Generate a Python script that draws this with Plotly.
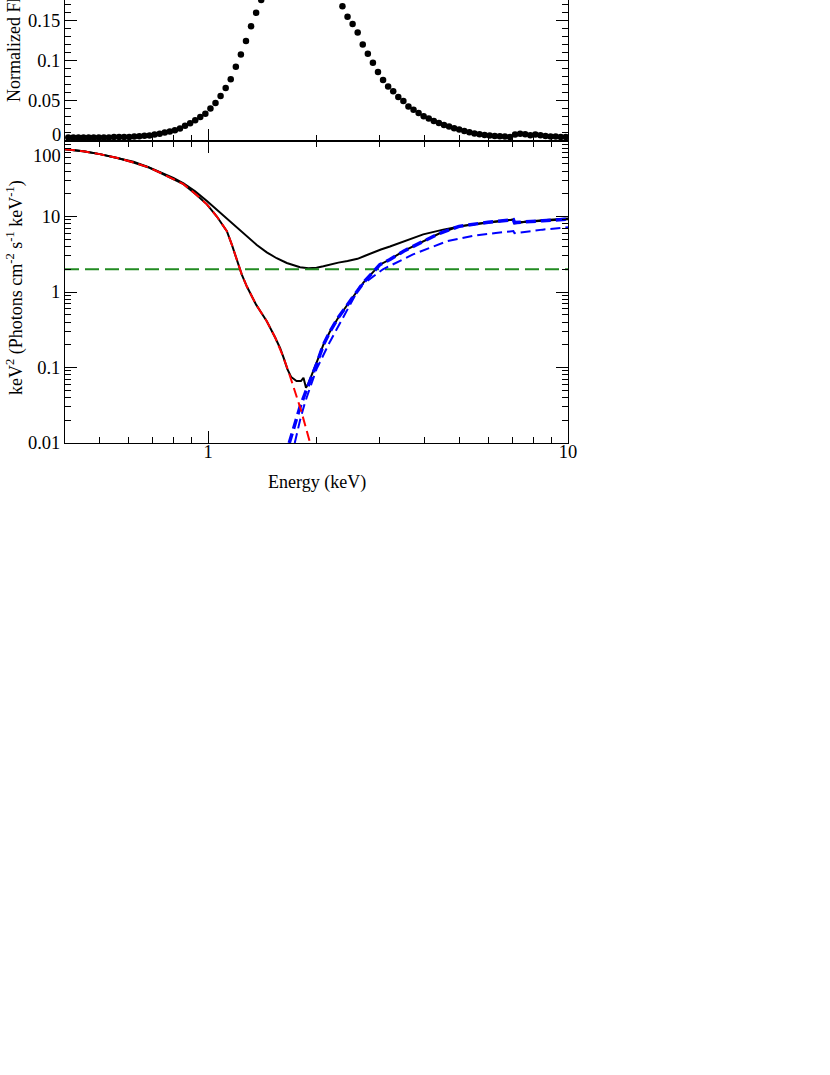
import plotly.graph_objects as go
import numpy as np

# ---------------- data ----------------
# top panel: normalized flux points
flux_energy = [0.4085, 0.4220, 0.4359, 0.4503, 0.4652, 0.4805, 0.4964, 0.5128, 0.5297, 0.5472,
               0.5653, 0.5840, 0.6032, 0.6232, 0.6437, 0.6650, 0.6870, 0.7096, 0.7331, 0.7573,
               0.7823, 0.8081, 0.8348, 0.8624, 0.8909, 0.9203, 0.9507, 0.9821, 1.0145, 1.0480,
               1.0826, 1.1184, 1.1553, 1.1935, 1.2329, 1.2736, 1.3157, 1.3591, 1.4040, 1.4504,
               1.4983, 1.5478, 1.5989, 1.6517, 1.7062, 1.7626, 1.8208, 1.8809, 1.9430, 2.0072,
               2.0735, 2.1419, 2.2127, 2.2857, 2.3612, 2.4392, 2.5197, 2.6029, 2.6889, 2.7777,
               2.8694, 2.9642, 3.0621, 3.1632, 3.2676, 3.3755, 3.4870, 3.6021, 3.7211, 3.8440,
               3.9709, 4.1020, 4.2375, 4.3774, 4.5220, 4.6713, 4.8256, 4.9849, 5.1495, 5.3196,
               5.4952, 5.6767, 5.8641, 6.0578, 6.2578, 6.4644, 6.6779, 6.8984, 7.1262, 7.3615,
               7.6046, 7.8557, 8.1151, 8.3831, 8.6599, 8.9458, 9.2412, 9.5464, 9.8616]
flux_value = [0.0045, 0.0045, 0.0045, 0.0045, 0.0045, 0.0045, 0.0045, 0.0045, 0.0045, 0.005,
              0.005, 0.005, 0.005, 0.0055, 0.006, 0.0065, 0.007, 0.008, 0.0092, 0.0105,
              0.012, 0.0135, 0.0155, 0.019, 0.022, 0.026, 0.030, 0.034, 0.0405, 0.0475,
              0.056, 0.066, 0.077, 0.0925, 0.108, 0.1246, 0.143, 0.160, 0.176, 0.195,
              0.215, 0.235, 0.255, 0.27, 0.282, 0.29, 0.292, 0.288, 0.278, 0.262,
              0.242, 0.22, 0.2, 0.182, 0.168, 0.155, 0.146, 0.1355, 0.1205, 0.109,
              0.0975, 0.086, 0.076, 0.068, 0.062, 0.055, 0.05, 0.043, 0.039, 0.035,
              0.031, 0.028, 0.025, 0.0225, 0.020, 0.018, 0.016, 0.0142, 0.0125, 0.011,
              0.0095, 0.0085, 0.0075, 0.007, 0.0063, 0.0059, 0.0055, 0.005, 0.008, 0.0092,
              0.0084, 0.0071, 0.008, 0.0071, 0.0063, 0.0055, 0.0055, 0.005, 0.005]

# bottom panel: model curves (keV^2 Photons cm^-2 s^-1 keV^-1)
total_energy = [0.4, 0.45, 0.5, 0.56, 0.62, 0.68, 0.736, 0.8, 0.854, 0.92, 0.992, 1.057,
                1.127, 1.2, 1.281, 1.365, 1.455, 1.55, 1.654, 1.73, 1.8, 1.9, 2.0, 2.09,
                2.18, 2.3, 2.44, 2.47, 2.5, 2.6, 2.73, 2.87, 3.02, 3.2, 3.5, 3.96, 4.5, 5.0,
                5.5, 6.2, 7.05, 7.1, 7.6, 8.5, 10.0]
total_value = [78, 73, 67, 59.5, 53, 45.5, 39, 32.5, 27.5, 21.5, 16.0, 12.3,
               9.3, 7.1, 5.5, 4.2, 3.35, 2.8, 2.42, 2.24, 2.13, 2.07, 2.1, 2.19,
               2.31, 2.45, 2.58, 2.62, 2.6, 2.75, 3.02, 3.33, 3.65, 4.0, 4.7, 5.8, 6.7, 7.4,
               7.9, 8.5, 9.1, 8.1, 8.5, 8.95, 9.4]

sum_energy = [0.4, 0.45, 0.5, 0.56, 0.62, 0.68, 0.736, 0.8, 0.854, 0.92, 0.992, 1.057,
              1.127, 1.164, 1.201, 1.24, 1.281, 1.32, 1.359, 1.405, 1.455, 1.535, 1.585,
              1.62, 1.66, 1.7, 1.76, 1.81, 1.84, 1.87, 1.9, 2.0, 2.09, 2.18, 2.3, 2.46,
              2.7, 3.0, 3.2, 3.5, 3.88, 4.4, 4.98, 6.0, 7.05, 7.1, 8.5, 10.0]
sum_value = [78, 73, 67, 59.5, 52, 45, 38, 31.5, 26.8, 20, 14.5, 10.0,
             6.4, 4.2, 2.6, 1.7, 1.18, 0.88, 0.68, 0.53, 0.41, 0.25, 0.18,
             0.135, 0.095, 0.075, 0.066, 0.066, 0.073, 0.054, 0.062, 0.115, 0.2, 0.30,
             0.46, 0.72, 1.33, 2.3, 2.7, 3.5, 4.5, 6.0, 7.4, 8.4, 9.1, 8.3, 8.8, 9.2]

bb_energy = [0.4, 0.45, 0.5, 0.56, 0.62, 0.68, 0.736, 0.8, 0.854, 0.92, 0.992, 1.057,
             1.127, 1.164, 1.201, 1.24, 1.281, 1.32, 1.359, 1.405, 1.455, 1.535, 1.615,
             1.67, 1.724, 1.81, 1.92]
bb_value = [78, 73, 67, 59.5, 52, 45, 38, 31.5, 26.8, 20, 14.5, 10.0,
            6.4, 4.2, 2.6, 1.7, 1.18, 0.88, 0.68, 0.53, 0.41, 0.25, 0.14,
            0.09, 0.056, 0.0275, 0.01]

pl1_energy = [1.68, 1.745, 1.8, 1.86, 1.9, 2.0, 2.09, 2.18, 2.3, 2.46, 2.7, 3.0, 3.2, 3.5,
              3.88, 4.4, 4.98, 6.0, 7.05, 7.1, 8.5, 10.0]
pl1_value = [0.01, 0.0183, 0.030, 0.0456, 0.058, 0.11, 0.2, 0.30, 0.46, 0.72, 1.33, 2.3, 2.7,
             3.5, 4.5, 6.0, 7.4, 8.4, 9.1, 8.3, 8.8, 9.2]

pl2_energy = [1.74, 1.8, 1.86, 1.92, 2.0, 2.18, 2.43, 2.64, 3.06, 3.71, 4.61, 5.5, 6.3, 7.05,
              7.1, 8.5, 10.0]
pl2_value = [0.01, 0.02, 0.035, 0.055, 0.095, 0.22, 0.58, 1.18, 2.0, 3.15, 4.7, 5.6, 6.05,
             6.4, 6.0, 6.7, 7.2]

const_energy = [0.4, 10.0]
const_value = [2.0, 2.0]

top_ticks = [0.05, 0.1, 0.15]
top_ticktext = ["0.05", "0.1", "0.15"]
bottom_ticks = [0.01, 0.1, 1, 10]
bottom_ticktext = ["0.01", "0.1", "1", "10"]
x_ticks = [1, 10]
x_ticktext = ["1", "10"]

FONT = "Liberation Serif"
TICKSIZE = 18.5
TITLESIZE = 18

fig = go.Figure()

fig.add_trace(go.Scatter(x=flux_energy, y=flux_value, mode="markers",
                         marker=dict(color="black", size=6.5), xaxis="x", yaxis="y"))

def line(x, y, color, width, dash):
    fig.add_trace(go.Scatter(x=x, y=y, mode="lines",
                             line=dict(color=color, width=width, dash=dash),
                             xaxis="x2", yaxis="y2"))

line(total_energy, total_value, "black", 2, "solid")
line(sum_energy, sum_value, "black", 2, "solid")
line(const_energy, const_value, "#228b22", 2, "14px,6px")
line(pl2_energy, pl2_value, "#0000ff", 2, "10px,5px")
line(pl1_energy, pl1_value, "#0000ff", 3.5, "10px,5px")
line(bb_energy, bb_value, "#ff0000", 2, "10px,5px")

W, H = 830, 1075
L, R, T, B = 65, 568, 0, 443   # plot area in pixels
split = (B - 141) / (B - T)

def px_x(p):
    return (p - L) / (R - L)

def px_y(p):
    return (B - p) / (B - T)

common_x = dict(type="log", range=[np.log10(0.4), 1], ticks="inside", showline=True,
                linecolor="black", linewidth=1, tickcolor="black", ticklen=12, showgrid=False,
                zeroline=False, tickvals=x_ticks, ticktext=x_ticktext, automargin=False,
                minor=dict(ticks="inside", ticklen=6, tickcolor="black",
                           tickvals=[0.5, 0.6, 0.7, 0.8, 0.9, 2, 3, 4, 5, 6, 7, 8, 9]),
                tickfont=dict(family=FONT, size=TICKSIZE, color="black"))

fig.update_layout(
    width=W, height=H,
    margin=dict(l=L, r=W - R, t=T, b=H - B),
    plot_bgcolor="white", paper_bgcolor="white",
    showlegend=False,
    font=dict(family=FONT, color="black"),
    xaxis=dict(common_x, domain=[0, 1], anchor="y", showticklabels=False, mirror=False),
    yaxis=dict(domain=[split, 1], range=[0, 0.1759], anchor="x", ticks="inside", showline=True,
               mirror="ticks", linecolor="black", tickcolor="black", ticklen=12, showgrid=False,
               zeroline=False, tickvals=top_ticks, ticktext=top_ticktext, automargin=False,
               minor=dict(ticks="inside", ticklen=6, tickcolor="black", dtick=0.01),
               tickfont=dict(family=FONT, size=TICKSIZE, color="black")),
    xaxis2=dict(common_x, domain=[0, 1], anchor="y2", mirror="ticks", ticklabelstandoff=-8),
    yaxis2=dict(type="log", domain=[0, split], range=[-2, 2], anchor="x2", ticks="inside",
                showline=True, mirror="ticks", linecolor="black", tickcolor="black", ticklen=12,
                showgrid=False, zeroline=False, tickvals=bottom_ticks, ticktext=bottom_ticktext,
                automargin=False,
                minor=dict(ticks="inside", ticklen=6, tickcolor="black",
                           tickvals=[m * 10 ** k for k in range(-2, 2) for m in range(2, 10)]),
                tickfont=dict(family=FONT, size=TICKSIZE, color="black")),
)

tf = dict(family=FONT, size=TICKSIZE, color="black")
af = dict(family=FONT, size=TITLESIZE, color="black")
# boundary tick labels (shifted inside their panels, as in the reference)
fig.add_annotation(xref="paper", yref="paper", x=px_x(62), y=px_y(134.5), text="0",
                   showarrow=False, xanchor="right", yanchor="middle", font=tf,
                   height=13, valign="middle", borderpad=0)
fig.add_annotation(xref="paper", yref="paper", x=px_x(62), y=px_y(155), text="100",
                   showarrow=False, xanchor="right", yanchor="middle", font=tf,
                   height=13, valign="middle", borderpad=0)
# axis titles
fig.add_annotation(xref="paper", yref="paper", x=px_x(316.5), y=px_y(482),
                   text="Energy (keV)", showarrow=False, xanchor="center", yanchor="middle", font=af)
fig.add_annotation(xref="paper", yref="paper", x=px_x(15), y=px_y(288),
                   text="keV<sup>2</sup> (Photons cm<sup>-2</sup> s<sup>-1</sup> keV<sup>-1</sup>)",
                   textangle=-90, showarrow=False, xanchor="center", yanchor="middle", font=af)
fig.add_annotation(xref="paper", yref="paper", x=px_x(14), y=px_y(104),
                   text="Normalized Flux", textangle=-90, showarrow=False,
                   xanchor="center", yanchor="bottom", font=af)

fig.write_html("out.html", post_script="document.body.style.margin='0';",
               config={"displayModeBar": False})
